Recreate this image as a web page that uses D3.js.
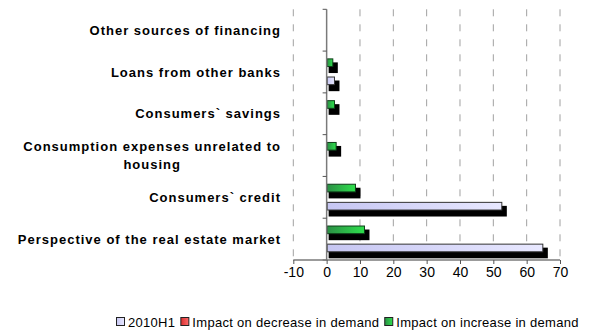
<!DOCTYPE html>
<html>
<head>
<meta charset="utf-8">
<script src="https://cdn.jsdelivr.net/npm/d3@7/dist/d3.min.js"></script>
<style>
  html, body { margin: 0; padding: 0; background: #fff; }
  svg { display: block; font-family: "Liberation Sans", Arial, sans-serif; }
</style>
</head>
<body>
<svg id="chart" width="590" height="334"></svg>
<script>
// Factors affecting housing loan demand (percent)
const categories = [
  "Other sources of financing",
  "Loans from other banks",
  "Consumers` savings",
  "Consumption expenses unrelated to housing",
  "Consumers` credit",
  "Perspective of the real estate market"
];
const labelLines = [
  ["Other sources of financing"],
  ["Loans from other banks"],
  ["Consumers` savings"],
  ["Consumption expenses unrelated to", "housing"],
  ["Consumers` credit"],
  ["Perspective of the real estate market"]
];
const seriesNames = ["2010H1", "Impact on decrease in demand", "Impact on increase in demand"];
const values2010H1 = [0, 2.5, 0, 0, 52.7, 65];
const valuesDecrease = [0, 0, 0, 0, 0, 0];
const valuesIncrease = [0, 2, 2.5, 3, 8.8, 11.5];
const xTicks = [-10, 0, 10, 20, 30, 40, 50, 60, 70];

const series = [
  { key: "h1", name: seriesNames[0], values: values2010H1, fill: "url(#gLav)", stroke: "#333" },
  { key: "dec", name: seriesNames[1], values: valuesDecrease, fill: "url(#gRed)", stroke: "#333" },
  { key: "inc", name: seriesNames[2], values: valuesIncrease, fill: "url(#gGreen)", stroke: "#0d3d18" }
];

const svg = d3.select("#chart");
const defs = svg.append("defs");
function grad(id, c0, c1) {
  const g = defs.append("linearGradient").attr("id", id)
    .attr("x1", "0%").attr("x2", "100%").attr("y1", "0%").attr("y2", "0%");
  g.append("stop").attr("offset", "0%").attr("stop-color", c0);
  g.append("stop").attr("offset", "100%").attr("stop-color", c1);
}
grad("gLav", "#c6c6f2", "#e8e8ff");
grad("gRed", "#d83030", "#ff6a6a");
grad("gGreen", "#2b8f45", "#2ee04c");

const plot = { left: 293.3, right: 560, top: 9.3, bottom: 260 };

const x = d3.scaleLinear().domain([-10, 70]).range([plot.left, plot.right]);
const y = d3.scaleBand().domain(categories).range([plot.top, plot.bottom]).paddingInner(0).paddingOuter(0);
// within a category, the first series sits at the bottom
const ySub = d3.scaleBand().domain(["inc", "dec", "h1"])
  .range([7.3, y.bandwidth() - 7.3]).paddingInner(0);

// dashed vertical gridlines
svg.append("g").selectAll("line")
  .data(xTicks.filter(t => t !== 0))
  .join("line")
  .attr("x1", d => x(d)).attr("x2", d => x(d))
  .attr("y1", plot.top).attr("y2", plot.bottom)
  .attr("stroke", "#a0a0a0").attr("stroke-width", 1)
  .attr("stroke-dasharray", "7,8");

// bars with drop shadows
const barG = svg.append("g");
categories.forEach((c, i) => {
  series.forEach(s => {
    const v = s.values[i];
    if (!v) return;
    const x0 = x(Math.min(0, v)), w = Math.abs(x(v) - x(0));
    const yy = y(c) + ySub(s.key), h = ySub.bandwidth() - 0.4;
    barG.append("rect")
      .attr("x", x0 + 2).attr("y", yy + 4)
      .attr("width", w + 2.5).attr("height", h + 2)
      .attr("fill", "#000");
    barG.append("rect")
      .attr("x", x0 + 0.5).attr("y", yy + 0.5)
      .attr("width", w - 1).attr("height", h - 1)
      .attr("fill", s.fill).attr("stroke", s.stroke).attr("stroke-width", 1);
  });
});

// category axis at zero
const yAxisG = svg.append("g");
yAxisG.append("line")
  .attr("x1", x(0)).attr("x2", x(0)).attr("y1", plot.top).attr("y2", plot.bottom)
  .attr("stroke", "#7a7a7a").attr("stroke-width", 1.5);
const boundaries = categories.map(c => y(c)).concat([plot.bottom]);
yAxisG.selectAll("line.tk").data(boundaries).join("line").attr("class", "tk")
  .attr("x1", x(0) - 4).attr("x2", x(0)).attr("y1", d => d).attr("y2", d => d)
  .attr("stroke", "#555").attr("stroke-width", 1);

// value axis
const xAxis = d3.axisBottom(x).tickValues(xTicks).tickSize(4).tickPadding(3).tickFormat(d3.format("d"));
const xg = svg.append("g").attr("transform", `translate(0,${plot.bottom})`).call(xAxis);
xg.select(".domain").attr("stroke", "#7a7a7a").attr("stroke-width", 1.5)
  .attr("d", `M${plot.left},0H${plot.right}`);
xg.selectAll(".tick line").attr("stroke", "#555");
xg.selectAll(".tick text").attr("font-size", 14).attr("fill", "#000")
  .attr("font-family", "Liberation Sans, Arial, sans-serif")
  .text(d => d < 0 ? "-" + Math.abs(d) : d);

// category labels, right-aligned block, lines centred within block
const labelRight = 281;
const lblG = svg.append("g").attr("font-size", 13).attr("font-weight", "bold")
  .attr("letter-spacing", 1).attr("fill", "#000");
categories.forEach((c, i) => {
  const lines = labelLines[i];
  const cy = y(c) + y.bandwidth() / 2;
  const lineH = 17.5;
  if (lines.length === 1) {
    lblG.append("text").attr("text-anchor", "end")
      .attr("x", labelRight).attr("y", cy).attr("dy", "0.35em").text(lines[0]);
  } else {
    const tmp = lblG.append("text").text(lines[0]);
    const wMax = tmp.node().getComputedTextLength();
    tmp.remove();
    const mid = labelRight - wMax / 2;
    lines.forEach((ln, k) => {
      lblG.append("text").attr("text-anchor", "middle")
        .attr("x", mid).attr("y", cy + (k - (lines.length - 1) / 2) * lineH)
        .attr("dy", "0.35em").text(ln);
    });
  }
});

// legend
const legG = svg.append("g").attr("font-size", 13).attr("letter-spacing", 0.3).attr("fill", "#000");
let lx = 116;
const ly = 322;
series.forEach(s => {
  legG.append("rect").attr("x", lx + 0.5).attr("y", ly - 4.5).attr("width", 8).attr("height", 8)
    .attr("fill", s.fill).attr("stroke", "#222").attr("stroke-width", 1);
  const t = legG.append("text").attr("x", lx + 12).attr("y", ly).attr("dy", "0.35em").text(s.name);
  lx += 12 + t.node().getComputedTextLength() + 5;
});
</script>
</body>
</html>
